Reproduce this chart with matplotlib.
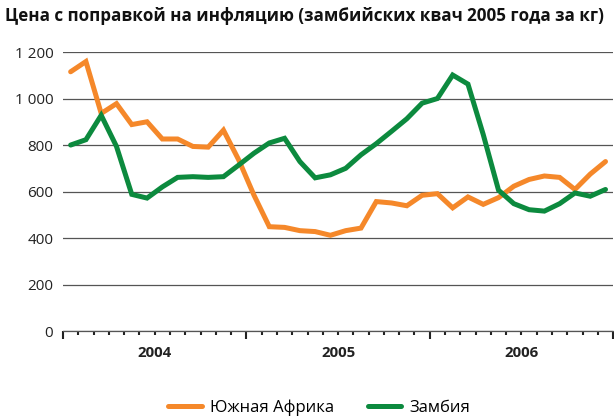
import matplotlib
matplotlib.use("Agg")
import matplotlib.pyplot as plt
from matplotlib.ticker import FuncFormatter, MultipleLocator

plt.rcParams['font.family'] = ['Open Sans', 'DejaVu Sans']

# месячные данные, янв 2004 - дек 2006
years = ["2004", "2005", "2006"]
south_africa = [1115, 1159, 936, 978, 888, 900, 826, 826, 794, 791, 864, 736,
                584, 449, 446, 432, 428, 412, 432, 443, 557, 551, 539, 584,
                591, 530, 577, 545, 574, 623, 652, 667, 661, 609, 675, 729]
zambia = [800, 823, 928, 794, 588, 572, 620, 661, 664, 661, 664, 714,
          765, 809, 829, 729, 659, 672, 700, 758, 806, 859, 913, 980,
          1000, 1101, 1062, 845, 606, 548, 522, 516, 548, 594, 580, 609]

months = [i + 0.5 for i in range(len(zambia))]

fig = plt.figure(figsize=(6.14, 4.16), dpi=100)
ax = fig.add_axes([0.1026, 0.204, 0.896, 0.671])

ax.plot(months, south_africa, color="#F5882A", lw=3.6, label="Южная Африка",
        solid_capstyle="round", solid_joinstyle="miter", zorder=3)
ax.plot(months, zambia, color="#0C8A3E", lw=3.6, label="Замбия",
        solid_capstyle="round", solid_joinstyle="miter", zorder=3)

ax.set_xlim(0, 36)
ax.set_ylim(0, 1200)
ax.yaxis.set_major_locator(MultipleLocator(200))
ax.yaxis.set_major_formatter(FuncFormatter(lambda v, p: f"{int(v):,}".replace(",", " ")))
ax.grid(axis="y", color="#555555", lw=0.9)
ax.set_axisbelow(True)

for s in ["top", "right", "left"]:
    ax.spines[s].set_visible(False)
ax.spines["bottom"].set_color("#555555")
ax.spines["bottom"].set_linewidth(0.9)

ax.xaxis.set_major_locator(MultipleLocator(12))
ax.xaxis.set_minor_locator(MultipleLocator(1))
ax.tick_params(axis="x", which="major", length=6, width=1.5, color="#222222", labelbottom=False)
ax.tick_params(axis="x", which="minor", length=3, width=1.5, color="#222222")
ax.tick_params(axis="y", length=0, labelsize=11, pad=7, labelcolor="#222222")

for i, y in enumerate(years):
    ax.text(6 + 12 * i, -0.055, y, transform=ax.get_xaxis_transform(),
            ha="center", va="top", fontsize=10.8, fontweight="bold", color="#222222")

title = fig.text(0.008, 0.962, "Цена с поправкой на инфляцию (замбийских квач 2005 года за кг)",
                 fontsize=10.5, fontweight="bold", ha="left", va="center", color="#111111")
# подгоняем ширину заголовка (~602 px как в оригинале)
r = fig.canvas.get_renderer()
w = title.get_window_extent(r).width
title.set_fontsize(10.5 * 600 / w)

fig.legend(loc="lower center", bbox_to_anchor=(0.52, -0.035), ncol=2, frameon=False,
           fontsize=12, handlelength=2.0, columnspacing=2.0, handletextpad=0.5)

fig.savefig("out.png", dpi=100)
